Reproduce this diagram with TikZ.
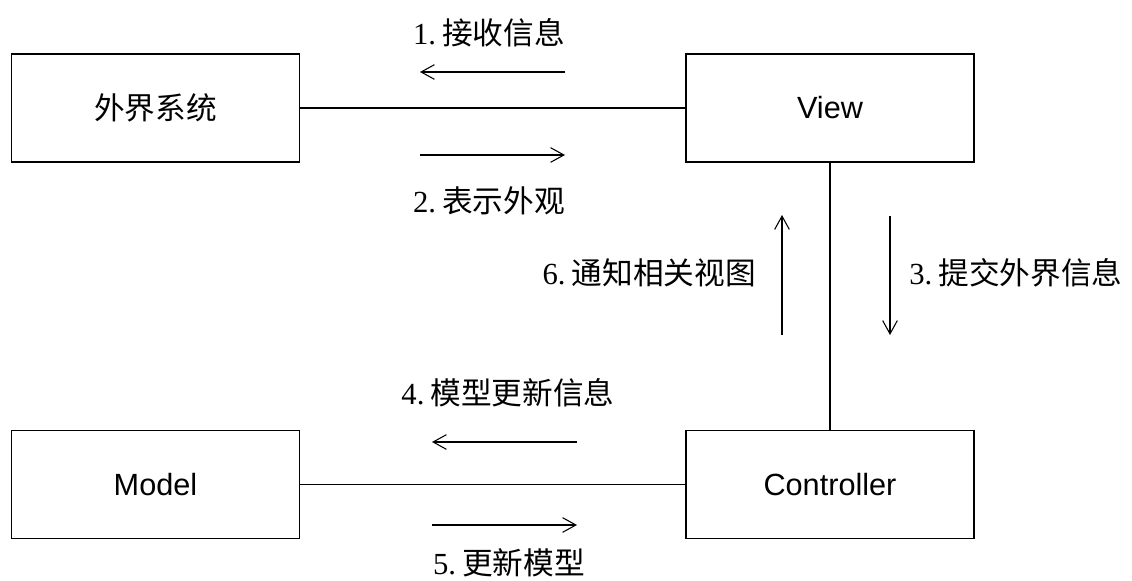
\documentclass[tikz,border=0pt]{standalone}
\usepackage{fontspec}
\setmainfont{Liberation Serif}
\setsansfont{Liberation Sans}
\newfontfamily\cjk{Noto Sans CJK SC}
\usetikzlibrary{arrows.meta}
\newcommand{\num}[1]{\makebox[0.95em][l]{#1}}
\begin{document}
\begin{tikzpicture}[x=0.75pt,y=-0.75pt,
  box/.style={draw,line width=1pt,minimum width=216pt,minimum height=81pt,inner sep=0pt},
  cn/.style={font=\fontsize{23pt}{27pt}\selectfont\cjk},
  en/.style={font=\fontsize{23pt}{27pt}\selectfont\sffamily},
  lab/.style={font=\fontsize{23pt}{27pt}\selectfont, inner sep=0pt},
  conn/.style={line width=1pt},
  arr/.style={line width=0.9pt,-{Straight Barb[length=10pt,width=11pt,line width=0.8pt]}}]
\useasboundingbox (0,0) rectangle (1132,581);
% boxes
\node[box,cn] (ext) at (155.5,108) {外界系统};
\node[box,en] (view) at (830,108) {View};
\node[box,en] (model) at (155.5,484.5) {Model};
\node[box,en] (ctrl) at (830,484.5) {Controller};
% connectors
\draw[conn] (ext) -- (view);
\draw[conn] (model) -- (ctrl);
\draw[conn] (view) -- (ctrl);
% arrow coordinates
\coordinate (a1s) at (565,72);  \coordinate (a1e) at (420,72);
\coordinate (a2s) at (420,155); \coordinate (a2e) at (565,155);
\coordinate (a4s) at (577,442); \coordinate (a4e) at (432,442);
\coordinate (a5s) at (432,525); \coordinate (a5e) at (577,525);
\coordinate (a6s) at (782,335); \coordinate (a6e) at (782,215);
\coordinate (a3s) at (890,216); \coordinate (a3e) at (890,335);
\draw[arr] (a1s) -- (a1e);
\draw[arr] (a2s) -- (a2e);
\draw[arr] (a4s) -- (a4e);
\draw[arr] (a5s) -- (a5e);
\draw[arr] (a6s) -- (a6e);
\draw[arr] (a3s) -- (a3e);
% labels
\node[lab] (l1) at (489,33) {\num{1.}\cjk 接收信息};
\node[lab] (l2) at (489,201) {\num{2.}\cjk 表示外观};
\node[lab,anchor=east] (l6) at (756,273) {\num{6.}\cjk 通知相关视图};
\node[lab,anchor=west] (l3) at (909,273) {\num{3.}\cjk 提交外界信息};
\node[lab] (l4) at (508,393) {\num{4.}\cjk 模型更新信息};
\node[lab] (l5) at (509,563) {\num{5.}\cjk 更新模型};
\end{tikzpicture}
\end{document}
